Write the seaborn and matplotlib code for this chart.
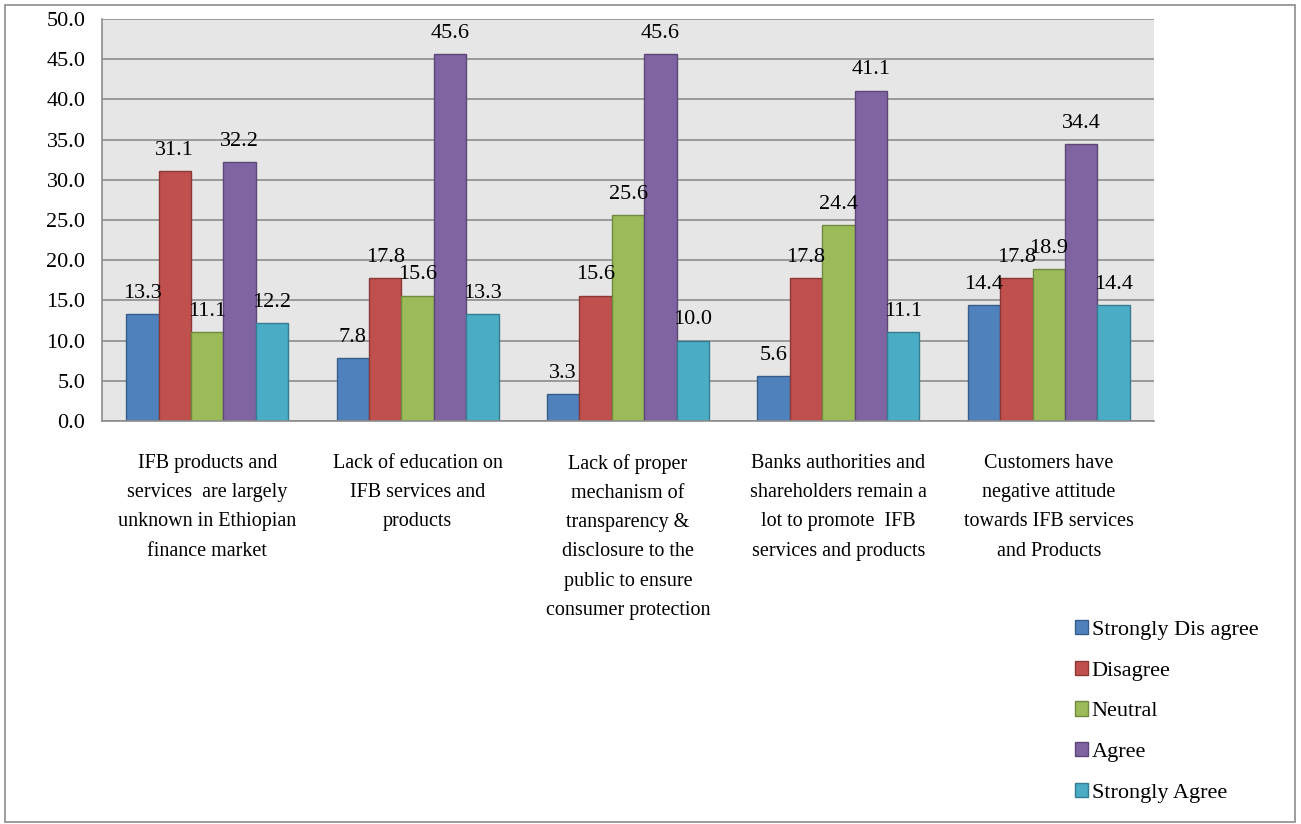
import matplotlib
matplotlib.use("Agg")
import matplotlib.pyplot as plt
import seaborn as sns
import pandas as pd
import numpy as np
from matplotlib.patches import Rectangle

categories = [
    "IFB products and\nservices  are largely\nunknown in Ethiopian\nfinance market",
    "Lack of education on\nIFB services and\nproducts",
    "Lack of proper\nmechanism of\ntransparency &\ndisclosure to the\npublic to ensure\nconsumer protection",
    "Banks authorities and\nshareholders remain a\nlot to promote  IFB\nservices and products",
    "Customers have\nnegative attitude\ntowards IFB services\nand Products",
]
series_names = ["Strongly Dis agree", "Disagree", "Neutral", "Agree", "Strongly Agree"]
strongly_disagree = [13.3, 7.8, 3.3, 5.6, 14.4]
disagree = [31.1, 17.8, 15.6, 17.8, 17.8]
neutral = [11.1, 15.6, 25.6, 24.4, 18.9]
agree = [32.2, 45.6, 45.6, 41.1, 34.4]
strongly_agree = [12.2, 13.3, 10.0, 11.1, 14.4]
y_ticks = [0, 5, 10, 15, 20, 25, 30, 35, 40, 45, 50]

colors = ["#4F81BD", "#C0504D", "#9BBB59", "#8064A2", "#4BACC6"]
edges = ["#385D8A", "#8C3836", "#71893F", "#5C4776", "#357D91"]

series_values = [strongly_disagree, disagree, neutral, agree, strongly_agree]
rows = []
for name, vals in zip(series_names, series_values):
    for cat, v in zip(categories, vals):
        rows.append({"category": cat, "series": name, "value": v})
df = pd.DataFrame(rows)

sns.set_theme(style="white")
plt.rcParams["font.family"] = ["Liberation Serif", "DejaVu Serif"]
plt.rcParams["text.color"] = "black"
plt.rcParams["xtick.labelcolor"] = "black"
plt.rcParams["ytick.labelcolor"] = "black"

fig = plt.figure(figsize=(13.01, 8.24), dpi=100)
ax = fig.add_axes([102 / 1301, 1 - 421 / 824, (1154 - 102) / 1301, (421 - 19) / 824])

sns.barplot(data=df, x="category", y="value", hue="series", order=categories,
            hue_order=series_names, palette=colors, width=0.77, gap=0,
            saturation=1, ax=ax, legend=True, errorbar=None)

for container, ec in zip(ax.containers, edges):
    for patch in container:
        patch.set_edgecolor(ec)
        patch.set_linewidth(1.0)
    ax.bar_label(container, fmt="%.1f", padding=8, fontsize=16, color="black")

ax.set_facecolor("#E6E6E6")
ax.set_ylim(0, 50)
ax.set_xlim(-0.5, len(categories) - 0.5)
ax.set_yticks(y_ticks)
ax.set_yticklabels([f"{t:.1f}" for t in y_ticks], fontsize=16, color="black")
ax.yaxis.grid(True, color="#8C8C8C", linewidth=1.2)
ax.set_axisbelow(True)
ax.set_xlabel("")
ax.set_ylabel("")

ax.set_xticks(range(len(categories)))
ax.set_xticklabels(categories, fontsize=14.5, linespacing=1.72, va="top", color="black")
ax.set_xticks(np.arange(-0.5, len(categories), 1.0), minor=True)
ax.tick_params(axis="x", which="major", length=0, pad=24)
ax.tick_params(axis="x", which="minor", length=6, width=1, color="#8C8C8C", direction="out")
ax.tick_params(axis="y", which="major", length=6, width=1, color="#8C8C8C", direction="out", pad=6)

for s in ["top", "right"]:
    ax.spines[s].set_visible(False)
for s in ["left", "bottom"]:
    ax.spines[s].set_color("#8C8C8C")
    ax.spines[s].set_linewidth(1.2)

handles, labels = ax.get_legend_handles_labels()
ax.get_legend().remove()
for h, ec in zip(handles, edges):
    h.set_edgecolor(ec)
fig.legend(handles, labels, loc="upper left", bbox_to_anchor=(1066 / 1301, 1 - 611 / 824),
           frameon=False, fontsize=16, handlelength=0.6, handleheight=0.6,
           handletextpad=0.15, labelspacing=0.94, borderaxespad=0, labelcolor="black")

fig.patches.append(Rectangle((5 / 1301, 2 / 824), (1295 - 5) / 1301, (819 - 2) / 824,
                             transform=fig.transFigure, fill=False,
                             edgecolor="#8C8C8C", linewidth=1.2))

fig.savefig("out.png", dpi=100)
